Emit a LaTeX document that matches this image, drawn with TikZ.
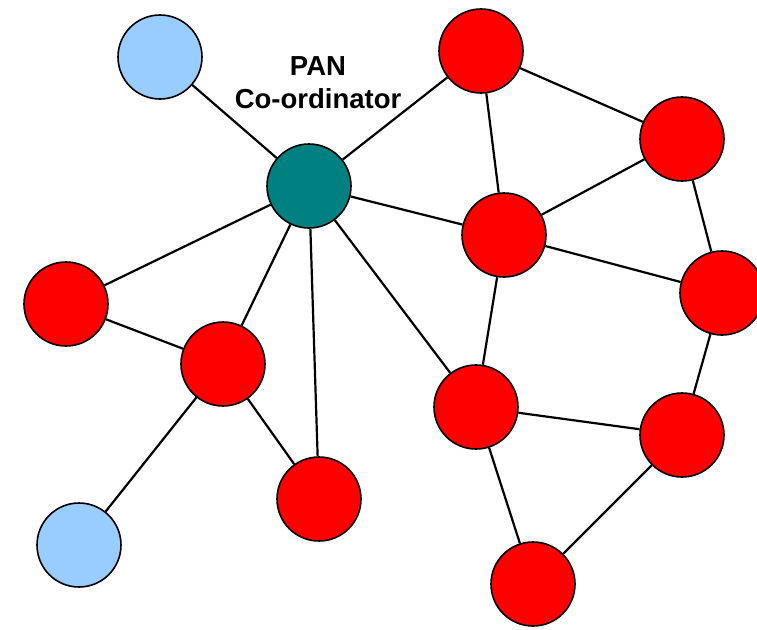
\documentclass[tikz,border=0pt]{standalone}
\usepackage{fontspec}
\setmainfont{Liberation Sans}
\definecolor{tealnode}{RGB}{0,128,128}
\definecolor{bluenode}{RGB}{153,204,255}
\definecolor{rednode}{RGB}{255,0,0}
\begin{document}
\begin{tikzpicture}[x=1pt,y=-1pt,
  nd/.style={circle,draw=black,line width=1.6pt,minimum size=84pt,inner sep=0pt},
  rn/.style={nd,fill=rednode},
  bn/.style={nd,fill=bluenode},
  tn/.style={nd,fill=tealnode},
  ln/.style={draw=black,line width=2.2pt}]
\useasboundingbox (0,0) rectangle (757,629);
\node[bn] (b1) at (160,57) {};
\node[tn] (pan) at (309,186) {};
\node[rn] (r1) at (481,51) {};
\node[rn] (r2) at (682,139) {};
\node[rn] (r3) at (504,235) {};
\node[rn] (r4) at (722,293) {};
\node[rn] (r5) at (66,304) {};
\node[rn] (r6) at (223,364) {};
\node[rn] (r7) at (476,407) {};
\node[rn] (r8) at (682,435) {};
\node[rn] (r9) at (319,499) {};
\node[bn] (b2) at (79,545) {};
\node[rn] (r10) at (533,584) {};
\node[font=\bfseries\fontsize{27.5}{33}\selectfont,align=center,inner sep=0pt] (lbl) at (318,83) {PAN\\Co-ordinator};
\path[ln] (b1) -- (pan) (pan) -- (r1) (pan) -- (r3) (pan) -- (r5) (pan) -- (r6)
  (pan) -- (r9) (pan) -- (r7) (r1) -- (r2) (r1) -- (r3) (r2) -- (r3) (r2) -- (r4)
  (r3) -- (r4) (r3) -- (r7) (r4) -- (r8) (r7) -- (r8) (r7) -- (r10) (r8) -- (r10)
  (r5) -- (r6) (r6) -- (b2) (r6) -- (r9);
\end{tikzpicture}
\end{document}
